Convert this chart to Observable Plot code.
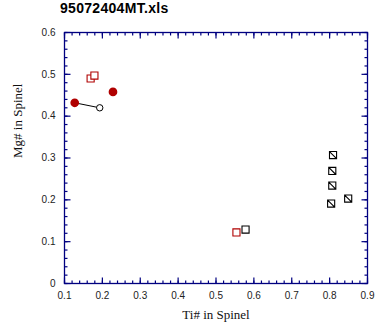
<!DOCTYPE html>
<html>
<head>
<meta charset="utf-8">
<script src="https://cdn.jsdelivr.net/npm/d3@7"></script>
<script src="https://cdn.jsdelivr.net/npm/@observablehq/plot@0.6"></script>
<style>
  html, body { margin: 0; padding: 0; background: #fff; }
  #wrap { width: 384px; height: 330px; position: relative; background: #fff; }
  #title { height: 22px; line-height: 24px; padding-left: 60px; font: bold 14px "Liberation Sans", Arial, sans-serif; color: #000; letter-spacing: 0.3px; }
</style>
</head>
<body>
<div id="wrap">
  <div id="title">95072404MT.xls</div>
  <div id="chart"></div>
</div>
<script>
const chartTitle = "95072404MT.xls";
const xLabel = "Ti# in Spinel";
const yLabel = "Mg# in Spinel";

const xDomain = [0.1, 0.9];
const yDomain = [0, 0.6];
const xTicks = [0.1, 0.2, 0.3, 0.4, 0.5, 0.6, 0.7, 0.8, 0.9];
const yTicks = [0, 0.1, 0.2, 0.3, 0.4, 0.5, 0.6];
const xMinor = d3.range(10, 91, 2).map(v => v / 100);
const yMinor = d3.range(0, 61, 2).map(v => v / 100);

// Red filled circles
const redDotTi = [0.127, 0.228];
const redDotMg = [0.432, 0.458];
// Open circle
const openDotTi = [0.193];
const openDotMg = [0.420];
// Tie line
const lineTi = [0.127, 0.193];
const lineMg = [0.432, 0.420];
// Red open squares
const redSqTi = [0.169, 0.179, 0.554];
const redSqMg = [0.490, 0.497, 0.122];
// Black open square
const blackSqTi = [0.578];
const blackSqMg = [0.129];
// Black squares with diagonal
const slashSqTi = [0.809, 0.807, 0.807, 0.804, 0.849];
const slashSqMg = [0.307, 0.269, 0.234, 0.191, 0.203];

const zip = (xs, ys) => xs.map((x, i) => ({x, y: ys[i]}));

const slashSquare = {
  draw(context, size) {
    const h = Math.sqrt(size) / 2;
    context.moveTo(-h, -h);
    context.lineTo(h, -h);
    context.lineTo(h, h);
    context.lineTo(-h, h);
    context.closePath();
    context.moveTo(-h, -h);
    context.lineTo(h, h);
  }
};

// tick symbols: a segment whose pixel length equals the dot radius
const tickSym = (dx, dy) => ({
  draw(context, size) {
    const L = Math.sqrt(size / Math.PI);
    context.moveTo(0, 0);
    context.lineTo(dx * L, dy * L);
  }
});
const tickUp = tickSym(0, -1), tickDown = tickSym(0, 1), tickRight = tickSym(1, 0), tickLeft = tickSym(-1, 0);

const navy = "#000080";
const red = "#b00000";
const fmt = d => d === 0 ? "0" : d.toFixed(1);

const tickStyle = { stroke: navy, fill: "none", strokeWidth: 1.2 };
const ticksX = (ticks, len) => [
  Plot.dot(ticks, { x: d => d, y: () => yDomain[0], symbol: tickUp, r: len, ...tickStyle }),
  Plot.dot(ticks, { x: d => d, y: () => yDomain[1], symbol: tickDown, r: len, ...tickStyle })
];
const ticksY = (ticks, len) => [
  Plot.dot(ticks, { y: d => d, x: () => xDomain[0], symbol: tickRight, r: len, ...tickStyle }),
  Plot.dot(ticks, { y: d => d, x: () => xDomain[1], symbol: tickLeft, r: len, ...tickStyle })
];

const plot = Plot.plot({
  width: 384,
  height: 308,
  marginTop: 10,
  marginBottom: 47,
  marginLeft: 64,
  marginRight: 17,
  style: { fontFamily: "Liberation Sans, Arial, sans-serif", fontSize: "10px", background: "#fff", color: "#222" },
  x: { domain: xDomain },
  y: { domain: yDomain },
  marks: [
    Plot.frame({ stroke: navy, strokeWidth: 1.3 }),
    Plot.axisX(xTicks, { anchor: "bottom", tickSize: 0, tickPadding: 8, tickFormat: fmt, label: null, fill: "#222" }),
    Plot.axisY(yTicks, { anchor: "left", tickSize: 0, tickPadding: 9, tickFormat: fmt, label: null, fill: "#222" }),
    Plot.text([xLabel], { text: d => d, frameAnchor: "bottom", dy: 35, fontFamily: "Liberation Serif, Times New Roman, serif", fontSize: 13, fill: "#111" }),
    Plot.text([yLabel], { text: d => d, frameAnchor: "left", dx: -47, rotate: -90, fontFamily: "Liberation Serif, Times New Roman, serif", fontSize: 13, fill: "#111" }),
    Plot.line(zip(lineTi, lineMg), { x: "x", y: "y", stroke: "#000", strokeWidth: 1 }),
    Plot.dot(zip(redDotTi, redDotMg), { x: "x", y: "y", r: 3.6, fill: red, stroke: red }),
    Plot.dot(zip(openDotTi, openDotMg), { x: "x", y: "y", r: 3.2, fill: "#fff", stroke: "#000", strokeWidth: 1 }),
    Plot.dot(zip(redSqTi, redSqMg), { x: "x", y: "y", symbol: "square", r: 4, fill: "#fff", stroke: red, strokeWidth: 1.1 }),
    Plot.dot(zip(blackSqTi, blackSqMg), { x: "x", y: "y", symbol: "square", r: 4, fill: "#fff", stroke: "#000", strokeWidth: 1.1 }),
    Plot.dot(zip(slashSqTi, slashSqMg), { x: "x", y: "y", symbol: slashSquare, r: 4, fill: "#fff", stroke: "#000", strokeWidth: 1.1 }),
    ...ticksX(xMinor, 3), ...ticksX(xTicks, 6),
    ...ticksY(yMinor, 3), ...ticksY(yTicks, 6)
  ]
});
document.getElementById("chart").appendChild(plot);
</script>
</body>
</html>
